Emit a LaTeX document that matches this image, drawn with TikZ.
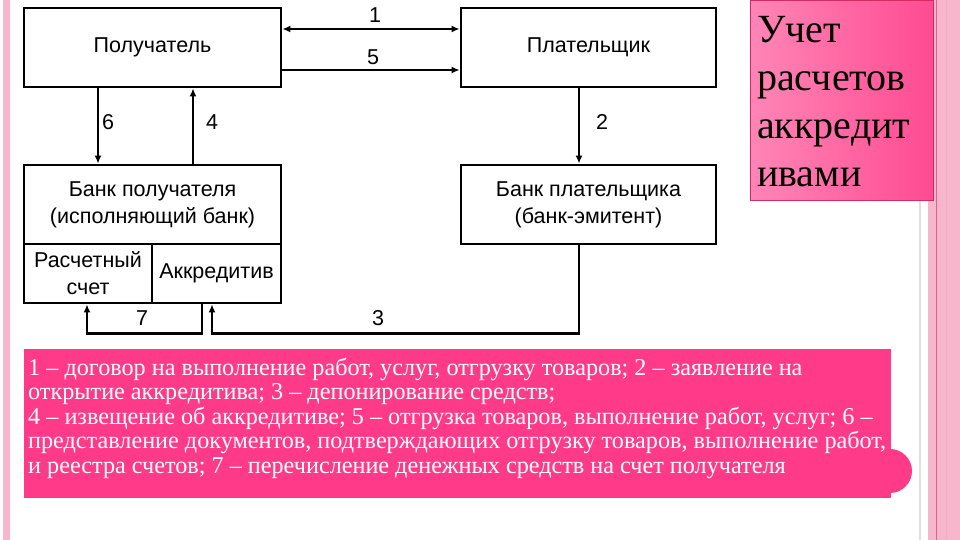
\documentclass[tikz,border=0pt]{standalone}
\usepackage{fontspec}
\setmainfont{Liberation Serif}
\newfontfamily\arialfont{Liberation Sans}
\usetikzlibrary{positioning,arrows.meta}
\definecolor{stripPink}{HTML}{F8B6CC}
\definecolor{stripLine}{HTML}{E0648E}
\definecolor{titleLight}{HTML}{FF86B6}
\definecolor{titleDark}{HTML}{FF4B92}
\definecolor{titleEdge}{HTML}{D42A68}
\definecolor{notePink}{HTML}{FF3A88}

\begin{document}
\begin{tikzpicture}[x=1pt,y=-1pt, line join=miter,
  blk/.style={draw, line width=2.8pt, fill=white, inner sep=0pt,
    align=center, font=\arialfont\fontsize{21.5}{27}\selectfont},
  num/.style={font=\arialfont\fontsize{21.5}{22}\selectfont, inner sep=0pt},
  flow/.style={line width=2.4pt, -{Latex[length=8pt,width=7pt]}}]
% page frame
\useasboundingbox (0,0) rectangle (960,540);
\fill[white] (0,0) rectangle (960,540);
\fill[stripPink] (3,0) rectangle (10,540);
\fill[stripPink] (928,0) rectangle (960,540);
\draw[stripLine, line width=1pt] (936,0) -- (936,540);
\draw[stripLine!50, line width=0.6pt] (946,0) -- (946,540);
\draw[gray!25, line width=1.5pt] (920,200) -- (920,540);

% title
\shade[left color=titleLight, right color=titleDark] (750,0) rectangle (933,200);
\draw[titleEdge, line width=0.8pt] (750,0) rectangle (933,200);
\node[anchor=north west, align=left, inner sep=0pt,
  font=\fontsize{40}{48}\selectfont] (title) at (757,16)
  {Учет\\расчетов\\аккредит\\ивами};

% boxes
\node[blk, minimum width=257pt, minimum height=79pt] (pol) at (152.5,47.5) {Получатель};
\node[blk, minimum width=255pt, minimum height=79pt] (plat) at (588.5,47.5) {Плательщик};
\node[blk, minimum width=257pt, minimum height=79pt] (bpol) at (152.5,204.5)
  {Банк получателя\\(исполняющий банк)};
\node[blk, minimum width=128pt, minimum height=59pt] (rs) at (88,273.5)
  {Расчетный\\счет};
\node[blk, minimum width=129pt, minimum height=59pt] (akk) at (216.5,273.5) {Аккредитив};
\node[blk, minimum width=255pt, minimum height=79pt] (bplat) at (588.5,204.5)
  {Банк плательщика\\(банк-эмитент)};

% connectors
\draw[flow, {Latex[length=8pt,width=7pt]}-{Latex[length=8pt,width=7pt]}]
  ([yshift=18.5pt]pol.east) -- ([yshift=18.5pt]plat.west);
\draw[flow] ([yshift=-22.5pt]pol.east) -- ([yshift=-22.5pt]plat.west);
\draw[flow] ([xshift=-54.5pt]pol.south) -- ([xshift=-54.5pt]bpol.north);
\draw[flow] ([xshift=40.5pt]bpol.north) -- ([xshift=40.5pt]pol.south);
\draw[flow] ([xshift=-9.5pt]plat.south) -- ([xshift=-9.5pt]bplat.north);
\draw[flow] ([xshift=-9.5pt]bplat.south) |- ([xshift=-4.5pt,yshift=-29pt]akk.south)
  -- ([xshift=-4.5pt]akk.south);
\draw[flow] ([xshift=-14.5pt]akk.south) -- ([xshift=-14.5pt,yshift=-29pt]akk.south)
  -| ([xshift=-1pt]rs.south);

% numbers
\node[num] (n1) at (375,15) {1};
\node[num] (n5) at (373,57) {5};
\node[num] (n6) at (108,122) {6};
\node[num] (n4) at (212,122) {4};
\node[num] (n2) at (602,122) {2};
\node[num] (n7) at (142,318) {7};
\node[num] (n3) at (378,318) {3};

% legend
\fill[notePink] (890,471) circle (22);
\fill[notePink] (24,349) rectangle (891,498);
\node[anchor=north west, align=left, inner sep=0pt, text=white,
  font=\fontsize{24.2}{24.4}\selectfont] (legend) at (28,358)
  {1 – договор на выполнение работ, услуг, отгрузку товаров; 2 – заявление на\\
   открытие аккредитива; 3 – депонирование средств;\\
   4 – извещение об аккредитиве; 5 – отгрузка товаров, выполнение работ, услуг; 6 –\\
   представление документов, подтверждающих отгрузку товаров, выполнение работ,\\
   и реестра счетов; 7 – перечисление денежных средств на счет получателя};
\end{tikzpicture}
\end{document}
